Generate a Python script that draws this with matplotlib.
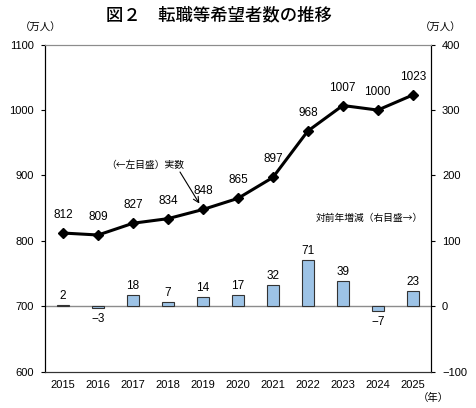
import matplotlib
matplotlib.use("Agg")
import matplotlib.pyplot as plt
from matplotlib import font_manager

years = ["2015", "2016", "2017", "2018", "2019", "2020", "2021", "2022", "2023", "2024", "2025"]
totals = [812, 809, 827, 834, 848, 865, 897, 968, 1007, 1000, 1023]
changes = [2, -3, 18, 7, 14, 17, 32, 71, 39, -7, 23]
left_ticks = [600, 700, 800, 900, 1000, 1100]
right_ticks = [-100, 0, 100, 200, 300, 400]

available = {f.name for f in font_manager.fontManager.ttflist}
num_font = "Liberation Sans Narrow" if "Liberation Sans Narrow" in available else "Liberation Sans"
FAM = [num_font, "Noto Sans CJK JP", "DejaVu Sans"]
JP = ["Noto Sans CJK JP", "DejaVu Sans"]
plt.rcParams["font.family"] = FAM
plt.rcParams["axes.unicode_minus"] = False

fig = plt.figure(figsize=(4.77, 4.08), dpi=100)
ax = fig.add_axes([0.0943, 0.089, 0.809, 0.8015])
ax2 = ax.twinx()

x = list(range(len(years)))

def fmt(v):
    return ("−" + str(-v)) if v < 0 else str(v)

# bars on right axis
ax2.bar(x, changes, width=0.34, color="#9DC3E6", edgecolor="#333333", linewidth=0.8, zorder=2)
ax2.axhline(0, color="#8c8c8c", linewidth=1.0, zorder=1)
ax2.set_ylim(-100, 400)
ax2.set_yticks(right_ticks)
ax2.set_yticklabels([fmt(v) for v in right_ticks], fontsize=8)
for xi, v in zip(x, changes):
    off = 9 if v >= 0 else -11
    ax2.annotate(fmt(v), (xi, v), xytext=(0, off),
                 textcoords="offset pixels", ha="center", va="center", fontsize=8.5)

# line on left axis, drawn on top
ax.set_zorder(ax2.get_zorder() + 1)
ax.patch.set_visible(False)
ax.plot(x, totals, color="black", linewidth=2.2, marker="D", markersize=5.5, zorder=3)
ax.set_ylim(600, 1100)
ax.set_yticks(left_ticks)
ax.set_yticklabels([str(v) for v in left_ticks], fontsize=8)
ax.set_xlim(-0.52, 10.52)
ax.set_xticks(x)
ax.set_xticklabels(years, fontsize=8)
for xi, v in zip(x, totals):
    ax.annotate(str(v), (xi, v), xytext=(0, 18), textcoords="offset pixels",
                ha="center", va="center", fontsize=8.5)

ax.tick_params(axis="x", length=0, pad=6)
ax.tick_params(axis="y", length=3, width=0.8, direction="out", pad=5)
ax2.tick_params(axis="y", length=3, width=0.8, direction="out", pad=5)
for a in (ax, ax2):
    a.spines["top"].set_color("#8c8c8c")
    a.spines["left"].set_color("black")
    a.spines["right"].set_color("black")
    a.spines["bottom"].set_color("#333333")

# annotations
ax.annotate("", xy=(4, 848), xytext=(180 / 477, 1 - 172 / 408),
            textcoords="figure fraction",
            arrowprops=dict(arrowstyle="->", color="black", lw=0.8,
                            shrinkA=0, shrinkB=5))
fig.text(145 / 477, 1 - 165 / 408, "（←左目盛）実数", ha="center", va="center",
         fontsize=7, family=JP)
fig.text(369 / 477, 1 - 218 / 408, "対前年増減（右目盛→）", ha="center", va="center",
         fontsize=7, family=JP)

fig.text(0.46, 0.963, "図２　転職等希望者数の推移", ha="center", va="center",
         fontsize=12.5, family=JP, weight="medium")
fig.text(41 / 477, 1 - 28 / 408, "（万人）", ha="center", va="center", fontsize=7.5, family=JP)
fig.text(441 / 477, 1 - 28 / 408, "（万人）", ha="center", va="center", fontsize=7.5, family=JP)
fig.text(433 / 477, 1 - 398 / 408, "（年）", ha="center", va="center", fontsize=7.5, family=JP)

fig.savefig("out.png", dpi=100)
